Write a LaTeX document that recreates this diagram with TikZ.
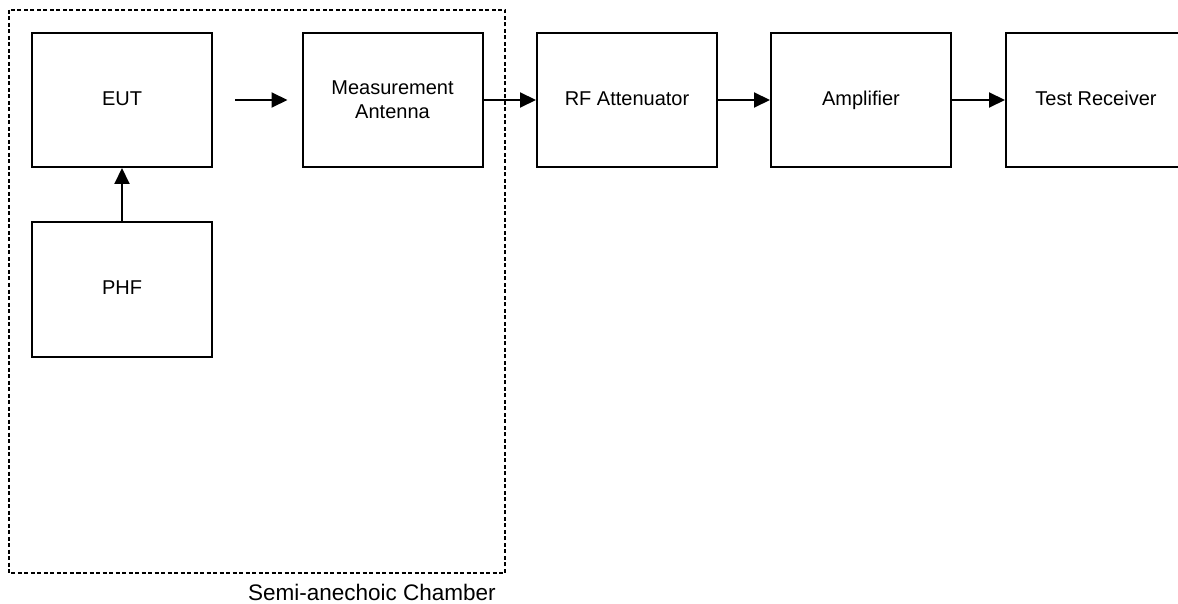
\documentclass[tikz,border=0pt]{standalone}
\usepackage{fontspec}
\setmainfont{Liberation Sans}
\usetikzlibrary{arrows.meta}
\begin{document}
\begin{tikzpicture}[x=1pt,y=-1pt,
  block/.style={draw=black,line width=2pt,minimum width=180pt,minimum height=134pt,
    inner sep=0pt,align=center,font=\fontsize{20}{24}\selectfont},
  oneline/.style={text height=14.5pt,text depth=4.2pt},
  flow/.style={line width=2pt,-{Triangle[length=16pt,width=15pt]}},
  chamber/.style={line width=1.8pt,dash pattern=on 4pt off 2.5pt}]
\clip (0,0) rectangle (1178,604);
\fill[white] (0,0) rectangle (1178,604);
% shielded room boundary
\draw[chamber] (9,10) rectangle (505,573);
\node[font=\fontsize{22.5}{26}\selectfont] (chlabel) at (372,592) {Semi-anechoic Chamber};
% signal chain
\node[block,oneline] (eut) at (122,100) {EUT};
\node[block,oneline,minimum height=135pt] (phf) at (122,289.5) {PHF};
\node[block] (ant) at (392.5,100) {Measurement\\Antenna};
\node[block,oneline] (att) at (627,100) {RF Attenuator};
\node[block,oneline] (amp) at (861,100) {Amplifier};
\node[block,oneline] (rx) at (1096,100) {Test Receiver};
% connections
\draw[flow] (phf.north) -- (eut.south);
\draw[flow] ([xshift=22pt]eut.east) -- ([xshift=-14pt]ant.west);
\draw[flow] (ant.east) -- (att.west);
\draw[flow] (att.east) -- (amp.west);
\draw[flow] (amp.east) -- (rx.west);
\end{tikzpicture}
\end{document}
